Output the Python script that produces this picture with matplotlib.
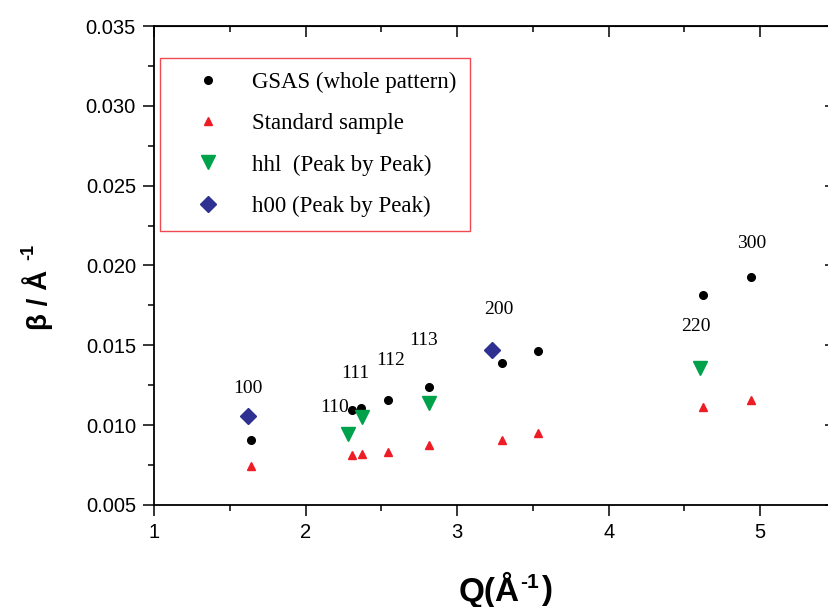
import matplotlib
matplotlib.use("Agg")
import matplotlib.pyplot as plt
from matplotlib.ticker import MultipleLocator, FormatStrFormatter

plt.rcParams['font.family'] = ['Liberation Sans', 'DejaVu Sans']

# --- data ---
gsas_q = [1.642, 2.307, 2.366, 2.547, 2.813, 3.293, 3.535, 4.624, 4.941]
gsas_b = [0.0091, 0.01096, 0.01109, 0.01157, 0.01239, 0.01387, 0.01462, 0.01814, 0.01931]

std_q = [1.642, 2.309, 2.371, 2.547, 2.813, 3.293, 3.535, 4.624, 4.941]
std_b = [0.00743, 0.00812, 0.00818, 0.00833, 0.00877, 0.00906, 0.00952, 0.01113, 0.01157]

hhl_q = [2.28, 2.371, 2.813, 4.60]
hhl_b = [0.00944, 0.01052, 0.01136, 0.01355]

h00_q = [1.622, 3.229]
h00_b = [0.01058, 0.01468]

peak_labels = ['100', '110', '111', '112', '113', '200', '220', '300']
label_q = [1.62, 2.19, 2.33, 2.56, 2.776, 3.277, 4.578, 4.941]
label_b = [0.0123, 0.01109, 0.01324, 0.01404, 0.01529, 0.01724, 0.01617, 0.02138]

fig = plt.figure(figsize=(8.29, 6.07), dpi=100)
# right spine sits just past the picture edge in the original
ax = fig.add_axes([154 / 829, 1 - 505 / 607, 682 / 829, 479 / 607])

ax.plot(gsas_q, gsas_b, 'o', color='black', markersize=5.5, linestyle='none',
        label='GSAS (whole pattern)')
ax.plot(std_q, std_b, '^', color='#ee1c25', markersize=6, linestyle='none',
        label='Standard sample')
ax.plot(hhl_q, hhl_b, 'v', color='#00a14b', markersize=10, linestyle='none',
        label='hhl  (Peak by Peak)')
ax.plot(h00_q, h00_b, 'D', color='#2e3192', markersize=8, linestyle='none',
        label='h00 (Peak by Peak)')

for txt, q, b in zip(peak_labels, label_q, label_b):
    ax.text(q, b, txt, ha='center', va='center', fontsize=14,
            family='Liberation Serif')

ax.set_xlim(1, 5.5)
ax.set_ylim(0.005, 0.035)
ax.xaxis.set_major_locator(MultipleLocator(1))
ax.xaxis.set_minor_locator(MultipleLocator(0.5))
ax.yaxis.set_major_locator(MultipleLocator(0.005))
ax.yaxis.set_minor_locator(MultipleLocator(0.0025))
ax.yaxis.set_major_formatter(FormatStrFormatter('%.3f'))

for s in ax.spines.values():
    s.set_linewidth(1.3)
ax.tick_params(which='major', direction='out', length=8, width=1.1,
               labelsize=14.5, pad=5)
ax.tick_params(which='minor', direction='out', length=4, width=1.1)

# inward ticks on top and right like the original box
top = ax.secondary_xaxis('top')
top.xaxis.set_major_locator(MultipleLocator(1))
top.xaxis.set_minor_locator(MultipleLocator(0.5))
top.tick_params(which='major', direction='in', length=8, width=1.1, labeltop=False)
top.tick_params(which='minor', direction='in', length=4, width=1.1)
right = ax.secondary_yaxis('right')
right.yaxis.set_major_locator(MultipleLocator(0.005))
right.yaxis.set_minor_locator(MultipleLocator(0.0025))
right.tick_params(which='major', direction='in', length=8, width=1.1, labelright=False)
right.tick_params(which='minor', direction='in', length=4, width=1.1)

# axis titles, with a plain hyphen in the superscript
fig.text(489 / 829, 1 - 590 / 607, 'Q(Å', ha='center', va='center',
         fontsize=24, fontweight='bold')
fig.text(530 / 829, 1 - 582 / 607, '-1', ha='center', va='center',
         fontsize=15, fontweight='bold')
fig.text(547 / 829, 1 - 590 / 607, ')', ha='center', va='center',
         fontsize=24, fontweight='bold')
fig.text(38 / 829, 1 - 300 / 607, 'β / Å', ha='center', va='center',
         rotation=90, fontsize=20, fontweight='bold')
fig.text(29 / 829, 1 - 252 / 607, '-1', ha='center', va='center',
         rotation=90, fontsize=13, fontweight='bold')

leg = ax.legend(loc='upper left', bbox_to_anchor=(6 / 682, (505 - 58) / 479),
                borderaxespad=0, fancybox=False, frameon=True,
                prop={'family': 'Liberation Serif', 'size': 16.5},
                handlelength=3.0, handletextpad=0.4, borderpad=0.6,
                labelspacing=0.88)
leg.get_frame().set_edgecolor('#ee1c25')
leg.get_frame().set_linewidth(1.0)

fig.savefig('out.png', dpi=100)
